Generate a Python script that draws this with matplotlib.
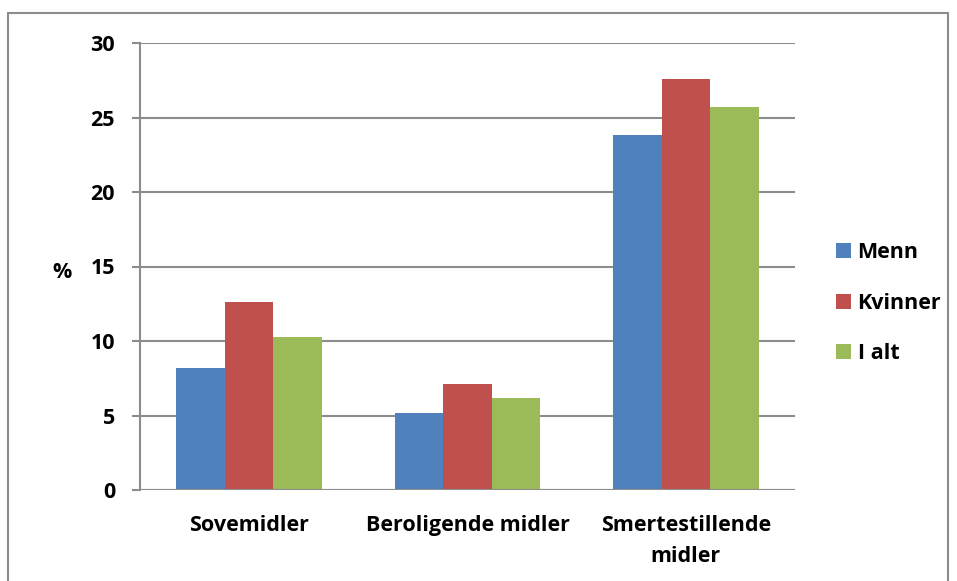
import matplotlib
matplotlib.use("Agg")
import matplotlib.pyplot as plt
from matplotlib.patches import Rectangle
import numpy as np

categories = ["Sovemidler", "Beroligende midler", "Smertestillende\nmidler"]
series_names = ["Menn", "Kvinner", "I alt"]
menn = [8.2, 5.2, 23.8]
kvinner = [12.6, 7.1, 27.6]
i_alt = [10.3, 6.2, 25.7]
y_ticks = [0, 5, 10, 15, 20, 25, 30]

colors = ["#4F81BD", "#C0504D", "#9BBB59"]
grid_col = "#8C8C8C"

plt.rcParams["font.family"] = ["Open Sans", "DejaVu Sans"]
plt.rcParams["font.weight"] = "bold"
FS = 15.5

W, H = 957, 581
fig = plt.figure(figsize=(W / 100, H / 100), dpi=100)

# outer chart-area frame
fig.patches.append(Rectangle((8 / W, -0.05), 940 / W, 1 - 13 / H + 0.05,
                             transform=fig.transFigure, fill=False,
                             edgecolor="#8C8C8C", linewidth=1.5))

ax = fig.add_axes([140 / W, 1 - 490 / H, (795 - 140) / W, (490 - 43) / H])

x = np.arange(len(categories))
bw = 0.222
for i, (vals, name) in enumerate(zip([menn, kvinner, i_alt], series_names)):
    ax.bar(x + (i - 1) * bw, vals, width=bw, color=colors[i], label=name,
           zorder=3, linewidth=0)

ax.set_xlim(-0.5, len(categories) - 0.5)
ax.set_ylim(0, 30)
ax.set_yticks(y_ticks)
ax.set_yticklabels([str(t) for t in y_ticks], fontsize=FS, fontweight="bold")
ax.set_xticks(x)
ax.set_xticklabels(categories, fontsize=FS, fontweight="bold", linespacing=1.6)
ax.tick_params(axis="x", length=0, pad=18)
ax.tick_params(axis="y", length=6, width=1.5, color=grid_col, pad=12)

ax.grid(axis="y", color=grid_col, linewidth=1.5, zorder=0)
for s in ["top", "right", "bottom"]:
    ax.spines[s].set_visible(False)
ax.spines["left"].set_color(grid_col)
ax.spines["left"].set_linewidth(1.5)
ax.axhline(0, color=grid_col, linewidth=1.5, zorder=4)

fig.text(62 / W, 1 - 272 / H, "%", fontsize=FS, fontweight="bold",
         ha="center", va="center")

leg = ax.legend(loc="upper left", bbox_to_anchor=(836 / W, 1 - 242 / H),
                bbox_transform=fig.transFigure, frameon=False,
                prop={"size": FS, "weight": "bold"},
                handlelength=0.7, handleheight=0.7, handletextpad=0.3,
                labelspacing=1.38, borderaxespad=0, borderpad=0)

fig.savefig("out.png", dpi=100)
